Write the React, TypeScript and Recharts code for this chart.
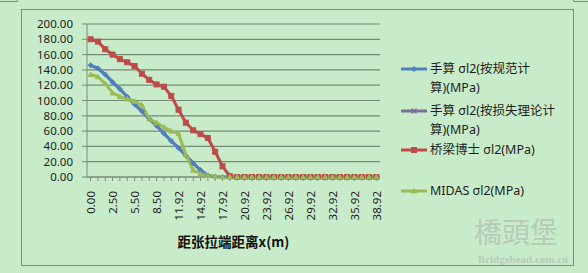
import React from "react";
import { LineChart, Line, XAxis, YAxis, CartesianGrid } from "recharts";

const categories = [
  "0.00","0.50","1.50","2.50","3.50","4.50","5.50","6.50","7.50","8.50","9.50","10.92",
  "11.92","12.92","13.92","14.92","15.92","16.92","17.92","18.92","19.92","20.92","21.92","22.92",
  "23.92","24.92","25.92","26.92","27.92","28.92","29.92","30.92","31.92","32.92","33.92","34.92",
  "35.92","36.92","37.92","38.92",
];

const handCode = [146,142,134,124,115,105,95,86,76,67,57,47,38,28,18,9,2,0.5,0,0,0,0,0,0,0,0,0,0,0,0,0,0,0,0,0,0,0,0,0,0];
const handLoss = [146,142,134,124,115,105,95,86,76,67,57,47,38,28,18,9,2,0.5,0,0,0,0,0,0,0,0,0,0,0,0,0,0,0,0,0,0,0,0,0,0];
const bridgeDr = [180,177,167,160,154,150,145,135,127,121,118,106,88,71,61,56,51,33,14,1,0,0,0,0,0,0,0,0,0,0,0,0,0,0,0,0,0,0,0,0];
const midas = [134,131,122,110,105,102,99,94,76,71,65,60,57,29,9,4,2,1,0,0,0,0,0,0,0,0,0,0,0,0,0,0,0,0,0,0,0,0,0,0];

const yTicks = [0,20,40,60,80,100,120,140,160,180,200];
const xTitle = "距张拉端距离x(m)";
const seriesNames = [
  ["手算 σl2(按规范计", "算)(MPa)"],
  ["手算 σl2(按损失理论计", "算)(MPa)"],
  ["桥梁博士 σl2(MPa)"],
  ["MIDAS σl2(MPa)"],
];

const data = categories.map((c, i) => ({
  x: c,
  a: handCode[i],
  b: handLoss[i],
  c: bridgeDr[i],
  d: midas[i],
}));

const COLORS = ["#4f81bd", "#7d6f9c", "#be4b48", "#9bbb59"];
const FONT = "'Noto Sans', 'Noto Sans CJK SC', sans-serif";

type Shape = "diamond" | "x" | "square" | "triangle";
const SHAPES: Shape[] = ["diamond", "x", "square", "triangle"];

function marker(shape: Shape, cx: number, cy: number, color: string, s: number, key?: string) {
  if (shape === "diamond")
    return <path key={key} d={`M${cx},${cy - s} L${cx + s},${cy} L${cx},${cy + s} L${cx - s},${cy} Z`} fill={color} stroke={color} strokeWidth={1} />;
  if (shape === "square")
    return <rect key={key} x={cx - s} y={cy - s} width={2 * s} height={2 * s} fill={color} stroke={color} strokeWidth={1} />;
  if (shape === "triangle")
    return <path key={key} d={`M${cx},${cy - s} L${cx + s},${cy + s - 0.5} L${cx - s},${cy + s - 0.5} Z`} fill={color} stroke={color} strokeWidth={1} />;
  return <path key={key} d={`M${cx - s},${cy - s} L${cx + s},${cy + s} M${cx - s},${cy + s} L${cx + s},${cy - s}`} stroke={color} strokeWidth={1.2} fill="none" />;
}

const makeDot = (i: number, s: number) => (p: any) => {
  if (p.cx == null || p.cy == null) return <g key={p.key} />;
  return marker(SHAPES[i], p.cx, p.cy, COLORS[i], s, p.key);
};

const XTick = (props: any) => {
  const { x, y, payload } = props;
  const idx = categories.indexOf(payload.value);
  if (idx % 3 !== 0) return <g />;
  const yy = y + 8;
  return (
    <text x={x} y={yy} transform={`rotate(-90 ${x} ${yy})`} textAnchor="end" dominantBaseline="central"
      fontSize={11.5} fill="#1e1e1e" fontFamily={FONT}>
      {payload.value}
    </text>
  );
};

const legendTops = [68, 110, 149, 190];

export default function App() {
  return (
    <div style={{ position: "absolute", left: 0, top: 0, width: 588, height: 273, background: "#c8ebca", overflow: "hidden" }}>
      <LineChart width={588} height={273} data={data} margin={{ top: 24, right: 208, bottom: 26, left: 0 }}>
        <CartesianGrid vertical={false} stroke="#748a76" strokeWidth={1.2} />
        <XAxis
          dataKey="x"
          interval={0}
          tick={<XTick />}
          tickSize={4}
          tickMargin={2}
          height={70}
          padding={{ left: 3.6, right: 3.6 }}
          stroke="#7d8a7e"
          label={{ value: xTitle, position: "insideBottom", offset: 0, fontSize: 13.5, fontWeight: 700, fill: "#111", fontFamily: "'Noto Sans CJK SC', sans-serif" }}
        />
        <YAxis
          domain={[0, 200]}
          ticks={yTicks}
          interval={0}
          width={87}
          tickSize={5}
          tickMargin={9}
          stroke="#7d8a7e"
          tickFormatter={(v: number) => v.toFixed(2)}
          tick={{ fontSize: 11.5, fill: "#1e1e1e", fontFamily: FONT }}
        />
        <Line dataKey="b" stroke={COLORS[1]} strokeWidth={3} dot={makeDot(1, 1.2)} isAnimationActive={false} />
        <Line dataKey="a" stroke={COLORS[0]} strokeWidth={3} dot={makeDot(0, 2.5)} isAnimationActive={false} />
        <Line dataKey="c" stroke={COLORS[2]} strokeWidth={3} dot={makeDot(2, 2.5)} isAnimationActive={false} />
        <Line dataKey="d" stroke={COLORS[3]} strokeWidth={3} dot={makeDot(3, 2.5)} isAnimationActive={false} />
      </LineChart>
      <svg width={588} height={273} style={{ position: "absolute", left: 0, top: 0, pointerEvents: "none" }}>
        <rect x={21.5} y={9.5} width={552} height={256} fill="none" stroke="#7f8a80" strokeWidth={1} />
        <path d="M0,1.5 L17.5,1.5 L17.5,0" fill="none" stroke="#7f8a80" strokeWidth={1} />
        <path d="M573.5,0 L573.5,1.5 L588,1.5" fill="none" stroke="#7f8a80" strokeWidth={1} />
        {seriesNames.map((lines, i) => (
          <g key={i}>
            <line x1={401} x2={427} y1={legendTops[i] + 1} y2={legendTops[i] + 1} stroke={COLORS[i]} strokeWidth={3} />
            {marker(SHAPES[i], 414, legendTops[i] + 1, COLORS[i], 2.5)}
            {lines.map((t, j) => (
              <text key={j} x={430} y={legendTops[i] + j * 19} dominantBaseline="central" fontSize={12.5} fill="#1e1e1e" fontFamily={FONT}>
                {t}
              </text>
            ))}
          </g>
        ))}
        <text x={516} y={243} textAnchor="middle" fontSize={28} fill="#b6cbb7" fontFamily="'Noto Sans CJK TC', serif">橋頭堡</text>
        <text x={523} y={263} textAnchor="middle" fontSize={11} fontWeight={700} fill="#b6cbb7" fontFamily="'Liberation Serif', serif">Bridgehead.com.cn</text>
      </svg>
    </div>
  );
}
